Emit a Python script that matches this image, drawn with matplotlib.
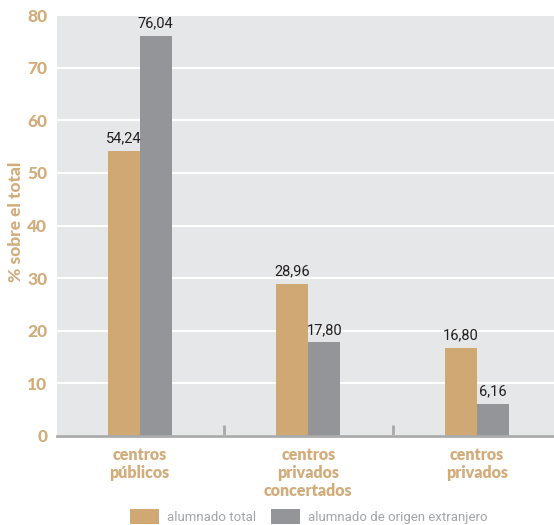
import matplotlib
matplotlib.use('Agg')
import matplotlib.pyplot as plt
import numpy as np

plt.rcParams['font.family'] = ['Roboto', 'DejaVu Sans']
bold_font = ['Lato', 'DejaVu Sans']

categories = ['centros\npúblicos', 'centros\nprivados\nconcertados', 'centros\nprivados']
total = [54.24, 28.96, 16.80]
extranjero = [76.04, 17.80, 6.16]
series_names = ['alumnado total', 'alumnado de origen extranjero']

tan = '#CFA874'
grey = '#939598'
label_tan = '#D2AC7A'

fig = plt.figure(figsize=(5.54, 5.25), dpi=100)
ax = fig.add_axes([57 / 554, 89 / 525, 497 / 554, 421 / 525])
ax.set_facecolor('#E6E7E8')

x = np.arange(len(categories))
w = 0.19
b1 = ax.bar(x - w / 2, total, w, color=tan, label=series_names[0], zorder=3)
b2 = ax.bar(x + w / 2, extranjero, w, color=grey, label=series_names[1], zorder=3)

for bars, vals in [(b1, total), (b2, extranjero)]:
    for bar, v in zip(bars, vals):
        ax.text(bar.get_x() + bar.get_width() / 2, v + 1.0,
                '{:.2f}'.format(v).replace('.', ','),
                ha='center', va='bottom', fontsize=10.5, color='#231F20', zorder=4)

ax.set_xlim(-0.49, 2.457)
ax.set_ylim(0, 80)
ax.set_yticks(range(0, 81, 10))
ax.yaxis.grid(True, color='white', linewidth=1.5, zorder=0)
ax.set_axisbelow(True)

for s in ['top', 'right', 'left']:
    ax.spines[s].set_visible(False)
ax.spines['bottom'].set_color('#ABABAB')
ax.spines['bottom'].set_linewidth(2)
ax.spines['bottom'].set_zorder(5)

ax.set_xticks(x)
ax.set_xticklabels(categories, fontsize=11.5, fontweight=800, family=bold_font,
                   color=label_tan, linespacing=1.15)
ax.set_xticks([0.5, 1.5], minor=True)
ax.tick_params(axis='x', which='major', length=0, pad=8)
ax.tick_params(axis='x', which='minor', direction='in', length=8, width=2,
               color='#A8A8A8')
ax.tick_params(axis='y', length=0, pad=7, labelsize=12.5, labelcolor=label_tan)
for t in ax.get_yticklabels():
    t.set_fontweight(900)
    t.set_family(bold_font)

fig.text(16 / 554, 1 - 222 / 525, '% sobre el total', rotation=90, ha='center',
         va='center', fontsize=12.5, fontweight=900, family=bold_font, color=label_tan)

fig.legend(loc='upper center', bbox_to_anchor=(309 / 554, 23 / 525), ncol=2,
           frameon=False, fontsize=9.5, handlelength=2.2, handleheight=1.4,
           handletextpad=0.6, columnspacing=1.1, borderpad=0, labelcolor='#A3A5A8')

fig.savefig('out.png', dpi=100)
